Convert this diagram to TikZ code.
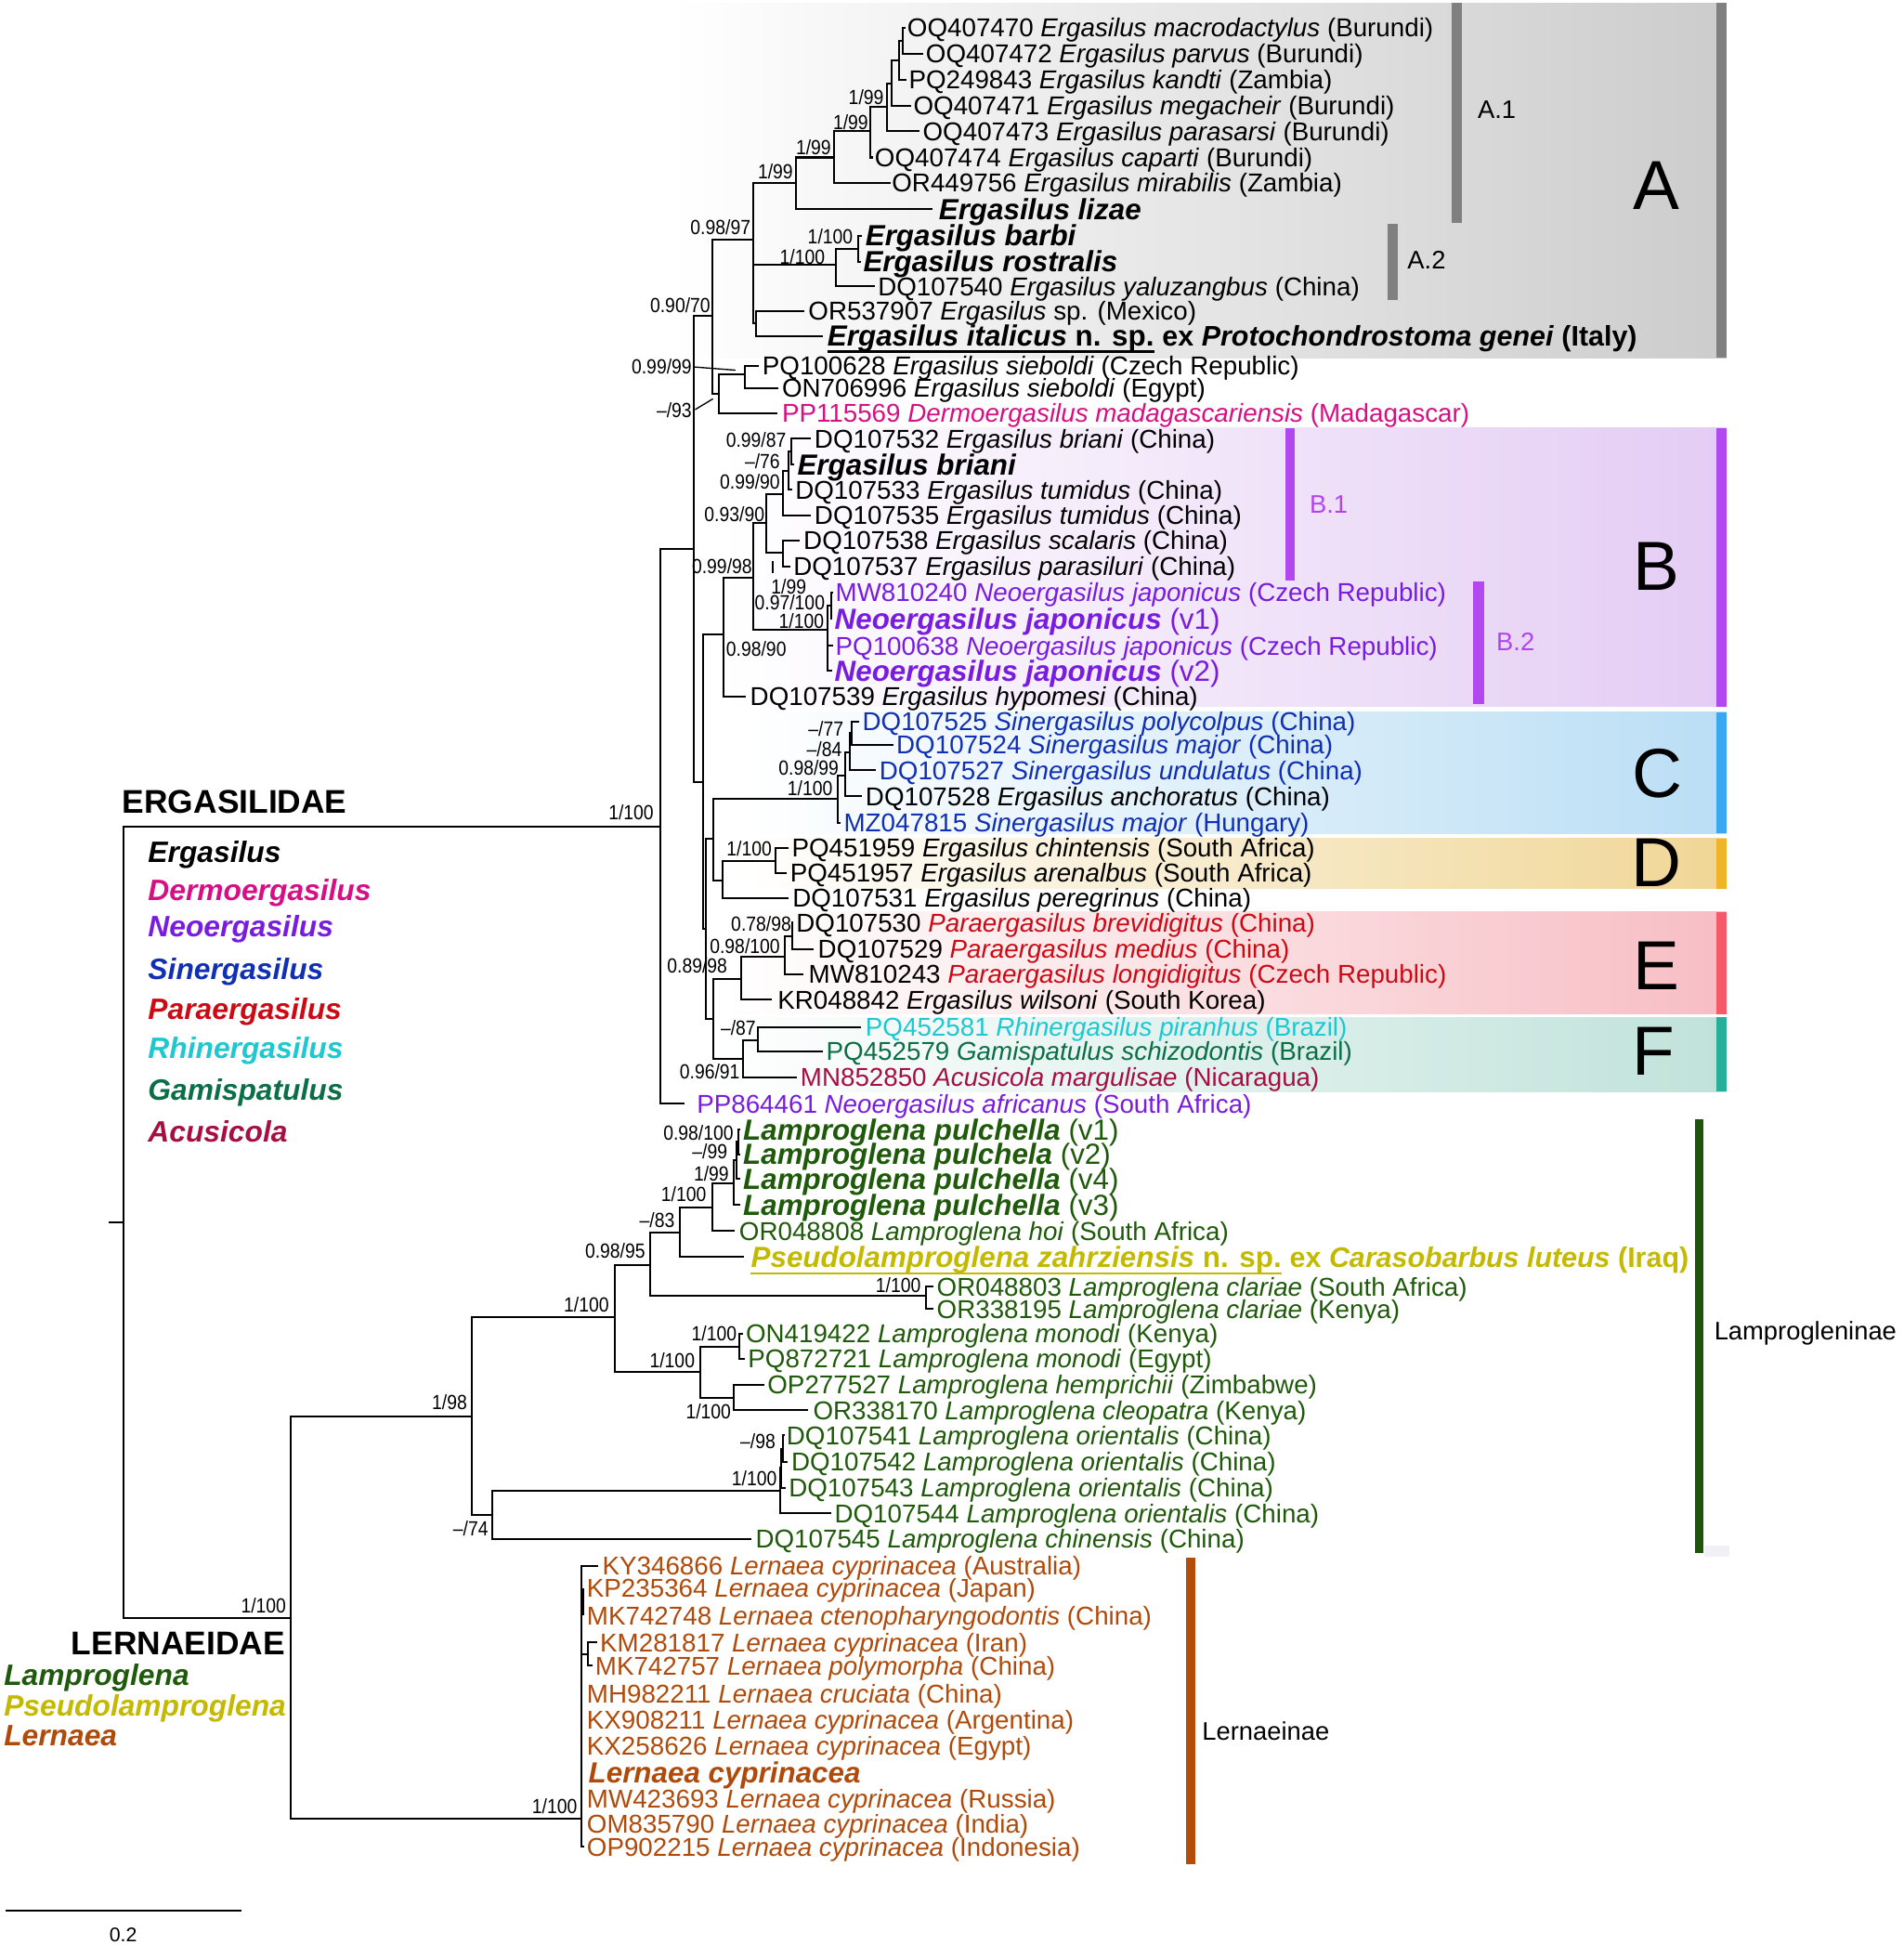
\documentclass[tikz,border=0pt]{standalone}
\usepackage{fontspec}
\setmainfont{Liberation Sans}
\newfontfamily\supfont[FakeStretch=0.88]{Liberation Sans}
\definecolor{cder}{RGB}{214,16,132}
\definecolor{cneo}{RGB}{120,28,224}
\definecolor{csin}{RGB}{16,48,180}
\definecolor{cpar}{RGB}{204,10,20}
\definecolor{crhi}{RGB}{30,200,208}
\definecolor{cgam}{RGB}{10,110,70}
\definecolor{cacu}{RGB}{165,15,65}
\definecolor{clam}{RGB}{30,90,10}
\definecolor{cpse}{RGB}{195,185,0}
\definecolor{cler}{RGB}{176,74,10}
\definecolor{cAr}{RGB}{204,204,204}\definecolor{cAbar}{RGB}{128,128,128}
\definecolor{cBr}{RGB}{228,204,244}\definecolor{cBbar}{RGB}{178,72,240}
\definecolor{cCr}{RGB}{186,222,245}\definecolor{cCbar}{RGB}{58,168,240}
\definecolor{cDr}{RGB}{240,214,150}\definecolor{cDbar}{RGB}{240,180,40}
\definecolor{cEr}{RGB}{247,190,196}\definecolor{cEbar}{RGB}{246,90,104}
\definecolor{cFr}{RGB}{192,226,218}\definecolor{cFbar}{RGB}{38,176,154}
\definecolor{cLamBar}{RGB}{30,85,10}\definecolor{cLerBar}{RGB}{179,77,10}
\definecolor{cBlab}{RGB}{178,68,240}
\definecolor{cSq}{RGB}{240,240,246}
\newcommand\LR[5]{\node[leaf,text=#4] (#1) at (#2,#3+7.4) {#5};}
\newcommand\LB[5]{\node[leafb,text=#4] (#1) at (#2,#3+8.4) {#5};}
\newcommand\SU[4]{\node[sup] (#1) at (#2,#3+5.8) {#4};}
\newcommand\GN[5]{\node[gen,text=#4] (#1) at (#2,#3+8.5) {#5};}
\begin{document}
\begin{tikzpicture}[x=1pt,y=-1pt,
  br/.style={line width=1.5pt,line join=miter},
  leaf/.style={anchor=base west,inner sep=0pt,font=\fontsize{20.8}{24}\selectfont},
  leafb/.style={anchor=base west,inner sep=0pt,font=\bfseries\fontsize{23.5}{26}\selectfont},
  leafc/.style={anchor=base west,inner sep=0pt,font=\bfseries\fontsize{22.8}{26}\selectfont},
  sup/.style={anchor=base east,inner sep=0pt,font=\supfont\fontsize{16.5}{18}\selectfont},
  gen/.style={anchor=base west,inner sep=0pt,font=\bfseries\itshape\fontsize{23.8}{26}\selectfont},
  fam/.style={anchor=base west,inner sep=0pt,font=\bfseries\fontsize{26.5}{30}\selectfont},
  big/.style={inner sep=0pt,font=\fontsize{56}{60}\selectfont},
  sub/.style={anchor=west,inner sep=0pt,font=\fontsize{20.5}{24}\selectfont}]
\useasboundingbox (0,0) rectangle (1536,1569);
% ---------- clade boxes ----------
\shade[left color=white,right color=cAr] (540,2.5) rectangle (1392.9,288.5);
\fill[cAbar] (1384.5,2.5) rectangle (1392.9,288.5);
\fill[cAbar] (1171.4,2.5) rectangle (1179.5,179.8);
\fill[cAbar] (1119.2,180.3) rectangle (1127.6,242.3);
\shade[left color=white,right color=cBr] (580,345.2) rectangle (1392.7,570);
\fill[cBbar] (1384.5,345.2) rectangle (1392.7,570);
\fill[cBbar] (1036.8,345.2) rectangle (1044.8,468.3);
\fill[cBbar] (1188.3,469) rectangle (1197,568.2);
\shade[left color=white,right color=cCr] (600,574.5) rectangle (1392.7,672.4);
\fill[cCbar] (1384.5,574.5) rectangle (1392.7,672.4);
\shade[left color=white,right color=cDr] (600,676.3) rectangle (1392.7,716.7);
\fill[cDbar] (1384.5,676.3) rectangle (1392.7,716.7);
\shade[left color=white,right color=cEr] (585,735.6) rectangle (1392.7,818);
\fill[cEbar] (1384.5,735.6) rectangle (1392.7,818);
\shade[left color=white,right color=cFr] (580,820.5) rectangle (1392.7,880.5);
\fill[cFbar] (1384.5,820.5) rectangle (1392.7,880.5);
\fill[cLamBar] (1367.4,902.9) rectangle (1374.5,1252.6);
\fill[cSq] (1375,1247) rectangle (1395,1256);
\fill[cLerBar] (956.7,1256.3) rectangle (964.3,1503.6);
% clade letters
\node[big] (bA) at (1336,150) {A};
\node[big] (bB) at (1336,457) {B};
\node[big] (bC) at (1337,623.6) {C};
\node[big] (bD) at (1336,695.6) {D};
\node[big] (bE) at (1336,779) {E};
\node[big] (bF) at (1334,848) {F};
\node[sub] (sA1) at (1192,88.7) {A.1};
\node[sub] (sA2) at (1135.3,209.8) {A.2};
\node[sub,text=cBlab] (sB1) at (1056.3,407.1) {B.1};
\node[sub,text=cBlab] (sB2) at (1207,518) {B.2};
\node[sub] (sLam) at (1382.8,1075.2) {Lamprogleninae};
\node[sub] (sLer) at (969.7,1396.2) {Lernaeinae};
% ---------- tree ----------
\draw[br] (88,986)--(99.6,986);
\draw[br] (532.8,667)--(99.6,667)--(99.6,1305.5)--(234.8,1305.5);
\draw[br] (559.5,442.6)--(532.8,442.6)--(532.8,890.4)--(552.5,890.4);
\draw[br] (574.6,254.8)--(559.5,254.8)--(559.5,630.6)--(567.4,630.6);
\draw[br] (607.8,193.6)--(574.6,193.6)--(574.6,317.7)--(579.8,317.7);
\draw[br] (642,147.4)--(607.8,147.4)--(607.8,261)--(609.6,261);
\draw[br] (607.8,213.6)--(674,213.6);
\draw[br] (673.2,127)--(642,127)--(642,168.5)--(752.5,168.5);
\draw[br] (702.4,106)--(673.2,106)--(673.2,147.5)--(718.6,147.5);
\draw[br] (715.6,86.2)--(702.4,86.2)--(702.4,127)--(704.5,127);
\draw[br] (719.4,67.4)--(715.6,67.4)--(715.6,106)--(742,106);
\draw[br] (725.6,48.7)--(719.4,48.7)--(719.4,85.5)--(735,85.5);
\draw[br] (728.1,33)--(725.6,33)--(725.6,64.5)--(731,64.5);
\draw[br] (730.5,22.5)--(728.1,22.5)--(728.1,43.5)--(745,43.5);
\draw[br] (692.6,200.5)--(674,200.5)--(674,231)--(706,231);
\draw[br] (695,190)--(692.6,190)--(692.6,211)--(694.5,211);
\draw[br] (649,251)--(609.6,251)--(609.6,271)--(664,271);
\draw[br] (600.7,302.2)--(579.8,302.2)--(579.8,333.4)--(627,333.4);
\draw[br] (612.5,295)--(600.7,295)--(600.7,313)--(628,313);
\draw[br] (584,512)--(567.4,512)--(567.4,749.3)--(569.8,749.3);
\draw[br] (607.3,465.8)--(584,465.8)--(584,562)--(602,562);
\draw[br] (617.9,422)--(607.3,422)--(607.3,508.3)--(667.4,508.3);
\draw[br] (631.8,398.4)--(617.9,398.4)--(617.9,446)--(631.8,446);
\draw[br] (645,436)--(631.8,436)--(631.8,457)--(638,457);
\draw[br] (636,380)--(631.8,380)--(631.8,415.5)--(654,415.5);
\draw[br] (638.1,364.5)--(636,364.5)--(636,395)--(639,395);
\draw[br] (654,354)--(638.1,354)--(638.1,375)--(641,375);
\draw[br] (670.3,488.5)--(667.4,488.5)--(667.4,541)--(671,541);
\draw[br] (667.4,521)--(672,521);
\draw[br] (672,478)--(670.3,478)--(670.3,499)--(671.5,499);
\draw[br] (575.7,676.8)--(569.8,676.8)--(569.8,821.7)--(575.7,821.7);
\draw[br] (675.8,644.4)--(575.7,644.4)--(575.7,710.6)--(583.2,710.6);
\draw[br] (682,625.6)--(675.8,625.6)--(675.8,663.5)--(678,663.5);
\draw[br] (685.3,606.9)--(682,606.9)--(682,642.5)--(695,642.5);
\draw[br] (686.8,591.5)--(685.3,591.5)--(685.3,621.5)--(706.5,621.5);
\draw[br] (693,582)--(686.8,582)--(686.8,601)--(720.5,601);
\draw[br] (625.6,694.3)--(583.2,694.3)--(583.2,724.5)--(636,724.5);
\draw[br] (636,684)--(625.6,684)--(625.6,704)--(635,704);
\draw[br] (598.2,789.4)--(575.7,789.4)--(575.7,854.4)--(599.4,854.4);
\draw[br] (633.2,771.7)--(598.2,771.7)--(598.2,806.5)--(623,806.5);
\draw[br] (638.8,755.6)--(633.2,755.6)--(633.2,786)--(648,786);
\draw[br] (640,744.4)--(638.8,744.4)--(638.8,765.5)--(656,765.5);
\draw[br] (611.4,839.2)--(599.4,839.2)--(599.4,869.2)--(643,869.2);
\draw[br] (694.5,828.5)--(611.4,828.5)--(611.4,848)--(663.5,848);
\draw[br] (381,1142.3)--(234.8,1142.3)--(234.8,1467.2)--(469.1,1467.2);
\draw[br] (495.8,1062.8)--(381,1062.8)--(381,1221.8)--(397,1221.8);
\draw[br] (629.4,1202.6)--(397,1202.6)--(397,1241.3)--(606.5,1241.3);
\draw[br] (524.5,1020.3)--(495.8,1020.3)--(495.8,1106.5)--(564.8,1106.5);
\draw[br] (548.2,994)--(524.5,994)--(524.5,1045.3)--(746.7,1045.3);
\draw[br] (574.9,974)--(548.2,974)--(548.2,1014)--(600,1014);
\draw[br] (591.9,954.5)--(574.9,954.5)--(574.9,993)--(592.5,993);
\draw[br] (594,936)--(591.9,936)--(591.9,972)--(597,972);
\draw[br] (595.6,921)--(594,921)--(594,951)--(597,951);
\draw[br] (597,911)--(595.6,911)--(595.6,931)--(597,931);
\draw[br] (753,1038)--(746.7,1038)--(746.7,1056)--(753,1056);
\draw[br] (596.3,1086.5)--(564.8,1086.5)--(564.8,1127.7)--(591.9,1127.7);
\draw[br] (599.5,1076)--(596.3,1076)--(596.3,1096)--(601,1096);
\draw[br] (616.5,1117.2)--(591.9,1117.2)--(591.9,1137.7)--(652,1137.7);
\draw[br] (630.4,1184)--(629.4,1184)--(629.4,1220.8)--(670.5,1220.8);
\draw[br] (631.4,1168.5)--(630.4,1168.5)--(630.4,1200)--(634,1200);
\draw[br] (633,1158)--(631.4,1158)--(631.4,1179)--(635.5,1179);
\draw[br] (482.5,1263)--(469.1,1263)--(469.1,1489.8)--(471,1489.8);
\draw[br] (482,1325)--(474.6,1325)--(474.6,1343.7)--(478,1343.7);
\draw[br] (469.1,1334.3)--(474.6,1334.3);
\draw[line width=2.6pt] (470.3,1281)--(470.3,1303);
% leader lines
\draw[line width=1pt] (559.5,296)--(593.3,298.6);
\draw[line width=1pt] (560.8,330.4)--(575.2,321.7);
\draw[line width=1pt] (623.5,452.5)--(623.5,462);
% scale bar
\draw[line width=1.5pt] (4.5,1541.5)--(194.8,1541.5);
\node[inner sep=0pt,font=\fontsize{16}{18}\selectfont] (scl) at (99.4,1561) {0.2};
% ---------- legend ----------
\node[fam] (ergfam) at (98.6,655.8) {ERGASILIDAE};
\GN{g1}{119.3}{686.9}{black}{Ergasilus}
\GN{g2}{119.3}{718}{cder}{Dermoergasilus}
\GN{g3}{119.3}{746.8}{cneo}{Neoergasilus}
\GN{g4}{119.3}{781.8}{csin}{Sinergasilus}
\GN{g5}{119.3}{814.2}{cpar}{Paraergasilus}
\GN{g6}{119.3}{845.6}{crhi}{Rhinergasilus}
\GN{g7}{119.3}{879.2}{cgam}{Gamispatulus}
\GN{g8}{119.3}{913}{cacu}{Acusicola}
\node[fam] (lerfam) at (57.4,1334.5) {LERNAEIDAE};
\GN{g9}{3}{1351.2}{clam}{Lamproglena}
\GN{g10}{3}{1375.7}{cpse}{Pseudolamproglena}
\GN{g11}{3}{1400}{cler}{Lernaea}
% ---------- leaves ----------
\LR{l1}{731.8}{22.5}{black}{OQ407470 \textit{Ergasilus macrodactylus} (Burundi)}
\LR{l2}{746.8}{43.5}{black}{OQ407472 \textit{Ergasilus parvus} (Burundi)}
\LR{l3}{733}{64.5}{black}{PQ249843 \textit{Ergasilus kandti} (Zambia)}
\LR{l4}{736.8}{85.5}{black}{OQ407471 \textit{Ergasilus megacheir} (Burundi)}
\LR{l5}{744.3}{106}{black}{OQ407473 \textit{Ergasilus parasarsi} (Burundi)}
\LR{l6}{705.6}{127}{black}{OQ407474 \textit{Ergasilus caparti} (Burundi)}
\LR{l7}{719.4}{147.5}{black}{OR449756 \textit{Ergasilus mirabilis} (Zambia)}
\LB{l8}{757.2}{168.5}{black}{\textit{Ergasilus lizae}}
\LB{l9}{698}{190}{black}{\textit{Ergasilus barbi}}
\LB{l10}{696.3}{211}{black}{\textit{Ergasilus rostralis}}
\LR{l11}{708.1}{231}{black}{DQ107540 \textit{Ergasilus yaluzangbus} (China)}
\LR{l12}{652}{251}{black}{OR537907 \textit{Ergasilus} sp. (Mexico)}
\LB{l13}{667.4}{271}{black}{\textit{Ergasilus italicus} n. sp.}
\node[leafc] (l13b) at (l13.base east) {~ex \textit{Protochondrostoma genei} (Italy)};
\draw[line width=1.8pt] ([yshift=-4.3pt]l13.base west)--([yshift=-4.3pt]l13.base east);
\LR{l14}{614.9}{295}{black}{PQ100628 \textit{Ergasilus sieboldi} (Czech Republic)}
\LR{l15}{630.7}{313}{black}{ON706996 \textit{Ergasilus sieboldi} (Egypt)}
\LR{l16}{630.7}{333.4}{cder}{PP115569 \textit{Dermoergasilus madagascariensis} (Madagascar)}
\LR{l17}{656.9}{354}{black}{DQ107532 \textit{Ergasilus briani} (China)}
\LB{l18}{643.1}{375}{black}{\textit{Ergasilus briani}}
\LR{l19}{641.4}{395}{black}{DQ107533 \textit{Ergasilus tumidus} (China)}
\LR{l20}{656.9}{415.5}{black}{DQ107535 \textit{Ergasilus tumidus} (China)}
\LR{l21}{648.1}{436}{black}{DQ107538 \textit{Ergasilus scalaris} (China)}
\LR{l22}{639.9}{457}{black}{DQ107537 \textit{Ergasilus parasiluri} (China)}
\LR{l23}{673.9}{478}{cneo}{MW810240 \textit{Neoergasilus japonicus} (Czech Republic)}
\LB{l24}{673.2}{499}{cneo}{\textit{Neoergasilus japonicus} \textmd{(v1)}}
\LR{l25}{673.9}{521}{cneo}{PQ100638 \textit{Neoergasilus japonicus} (Czech Republic)}
\LB{l26}{673.2}{541}{cneo}{\textit{Neoergasilus japonicus} \textmd{(v2)}}
\LR{l27}{605}{562}{black}{DQ107539 \textit{Ergasilus hypomesi} (China)}
\LR{l28}{695.6}{582}{csin}{DQ107525 \textit{Sinergasilus polycolpus} (China)}
\LR{l29}{723}{601}{csin}{DQ107524 \textit{Sinergasilus major} (China)}
\LR{l30}{709.3}{621.5}{csin}{DQ107527 \textit{Sinergasilus undulatus} (China)}
\LR{l31}{698.1}{642.5}{black}{DQ107528 \textit{Ergasilus anchoratus} (China)}
\LR{l32}{680.6}{663.5}{csin}{MZ047815 \textit{Sinergasilus major} (Hungary)}
\LR{l33}{638.6}{684}{black}{PQ451959 \textit{Ergasilus chintensis} (South Africa)}
\LR{l34}{637.3}{704}{black}{PQ451957 \textit{Ergasilus arenalbus} (South Africa)}
\LR{l35}{639.2}{724.5}{black}{DQ107531 \textit{Ergasilus peregrinus} (China)}
\LR{l36}{642.2}{744.4}{black}{DQ107530 \textcolor{cpar}{\textit{Paraergasilus brevidigitus} (China)}}
\LR{l37}{659.7}{765.5}{black}{DQ107529 \textcolor{cpar}{\textit{Paraergasilus medius} (China)}}
\LR{l38}{652.2}{786}{black}{MW810243 \textcolor{cpar}{\textit{Paraergasilus longidigitus} (Czech Republic)}}
\LR{l39}{627.2}{806.5}{black}{KR048842 \textit{Ergasilus wilsoni} (South Korea)}
\LR{l40}{698.1}{828.5}{crhi}{PQ452581 \textit{Rhinergasilus piranhus} (Brazil)}
\LR{l41}{666.4}{848}{cgam}{PQ452579 \textit{Gamispatulus schizodontis} (Brazil)}
\LR{l42}{645.6}{869.2}{cacu}{MN852850 \textit{Acusicola margulisae} (Nicaragua)}
\LR{l43}{562}{890.4}{cneo}{PP864461 \textit{Neoergasilus africanus} (South Africa)}
\LB{l44}{599.4}{911}{clam}{\textit{Lamproglena pulchella} \textmd{(v1)}}
\LB{l45}{599.4}{931}{clam}{\textit{Lamproglena pulchela} \textmd{(v2)}}
\LB{l46}{599.4}{951}{clam}{\textit{Lamproglena pulchella} \textmd{(v4)}}
\LB{l47}{599.4}{972}{clam}{\textit{Lamproglena pulchella} \textmd{(v3)}}
\LR{l48}{596.2}{993}{clam}{OR048808 \textit{Lamproglena hoi} (South Africa)}
\LB{l49}{605.7}{1014}{cpse}{\textit{Pseudolamproglena zahrziensis} n. sp.}
\node[leafc,text=cpse] (l49b) at (l49.base east) {~ex \textit{Carasobarbus luteus} (Iraq)};
\draw[cpse,line width=1.8pt] ([yshift=-5pt]l49.base west)--([yshift=-5pt]l49.base east);
\LR{l50}{755.6}{1038}{clam}{OR048803 \textit{Lamproglena clariae} (South Africa)}
\LR{l51}{755.6}{1056}{clam}{OR338195 \textit{Lamproglena clariae} (Kenya)}
\LR{l52}{601.5}{1076}{clam}{ON419422 \textit{Lamproglena monodi} (Kenya)}
\LR{l53}{603.3}{1096}{clam}{PQ872721 \textit{Lamproglena monodi} (Egypt)}
\LR{l54}{619}{1117.2}{clam}{OP277527 \textit{Lamproglena hemprichii} (Zimbabwe)}
\LR{l55}{655.8}{1137.7}{clam}{OR338170 \textit{Lamproglena cleopatra} (Kenya)}
\LR{l56}{634.4}{1158}{clam}{DQ107541 \textit{Lamproglena orientalis} (China)}
\LR{l57}{638.2}{1179}{clam}{DQ107542 \textit{Lamproglena orientalis} (China)}
\LR{l58}{636.2}{1200}{clam}{DQ107543 \textit{Lamproglena orientalis} (China)}
\LR{l59}{673.1}{1220.8}{clam}{DQ107544 \textit{Lamproglena orientalis} (China)}
\LR{l60}{609.4}{1241.3}{clam}{DQ107545 \textit{Lamproglena chinensis} (China)}
\LR{l61}{485.8}{1263.3}{cler}{KY346866 \textit{Lernaea cyprinacea} (Australia)}
\LR{l62}{473.3}{1281.3}{cler}{KP235364 \textit{Lernaea cyprinacea} (Japan)}
\LR{l63}{473.3}{1303.3}{cler}{MK742748 \textit{Lernaea ctenopharyngodontis} (China)}
\LR{l64}{484}{1325}{cler}{KM281817 \textit{Lernaea cyprinacea} (Iran)}
\LR{l65}{480}{1343.7}{cler}{MK742757 \textit{Lernaea polymorpha} (China)}
\LR{l66}{473.3}{1366.2}{cler}{MH982211 \textit{Lernaea cruciata} (China)}
\LR{l67}{473.3}{1387.4}{cler}{KX908211 \textit{Lernaea cyprinacea} (Argentina)}
\LR{l68}{473.3}{1408.6}{cler}{KX258626 \textit{Lernaea cyprinacea} (Egypt)}
\LB{l69}{474.6}{1429.9}{cler}{\textit{Lernaea cyprinacea}}
\LR{l70}{473.3}{1451.1}{cler}{MW423693 \textit{Lernaea cyprinacea} (Russia)}
\LR{l71}{473.3}{1471.1}{cler}{OM835790 \textit{Lernaea cyprinacea} (India)}
\LR{l72}{473.3}{1489.8}{cler}{OP902215 \textit{Lernaea cyprinacea} (Indonesia)}
% ---------- support values ----------
\SU{s1}{713.1}{78.7}{1/99}
\SU{s2}{700.6}{98.7}{1/99}
\SU{s3}{670.6}{118.6}{1/99}
\SU{s4}{639.9}{138.6}{1/99}
\SU{s5}{605.7}{183.6}{0.98/97}
\SU{s6}{688.2}{191}{1/100}
\SU{s7}{665.7}{207.3}{1/100}
\SU{s8}{573.2}{246}{0.90/70}
\SU{s9}{558.2}{296}{0.99/99}
\SU{s10}{558.2}{331}{–/93}
\SU{s11}{634.4}{354.7}{0.99/87}
\SU{s12}{629.4}{372}{–/76}
\SU{s13}{629.4}{388.4}{0.99/90}
\SU{s14}{616.9}{414.6}{0.93/90}
\SU{s15}{606.9}{457}{0.99/98}
\SU{s16}{650.7}{473.3}{1/99}
\SU{s17}{665.6}{485.8}{0.97/100}
\SU{s18}{664.9}{500.8}{1/100}
\SU{s19}{634.5}{523.3}{0.98/90}
\SU{s20}{680.6}{588.2}{–/77}
\SU{s21}{679.3}{604.4}{–/84}
\SU{s22}{676.8}{619.4}{0.98/99}
\SU{s23}{671.8}{635.7}{1/100}
\SU{s24}{622.8}{684.4}{1/100}
\SU{s25}{638.5}{745.5}{0.78/98}
\SU{s26}{629.4}{763.1}{0.98/100}
\SU{s27}{586.9}{779.3}{0.89/98}
\SU{s28}{609.9}{829.2}{–/87}
\SU{s29}{597}{864.2}{0.96/91}
\SU{s30}{527.5}{655.6}{1/100}
\SU{s31}{591.9}{914.1}{0.98/100}
\SU{s32}{587}{929.1}{–/99}
\SU{s33}{588.2}{946.7}{1/99}
\SU{s34}{570}{963.6}{1/100}
\SU{s35}{544.5}{984}{–/83}
\SU{s36}{520.7}{1009}{0.98/95}
\SU{s37}{491.5}{1052.7}{1/100}
\SU{s38}{743}{1036.9}{1/100}
\SU{s39}{594.5}{1075.9}{1/100}
\SU{s40}{560.7}{1097.7}{1/100}
\SU{s41}{589.9}{1138.9}{1/100}
\SU{s42}{625.7}{1162.6}{–/98}
\SU{s43}{626.9}{1192.6}{1/100}
\SU{s44}{377}{1131}{1/98}
\SU{s45}{394}{1233}{–/74}
\SU{s46}{231}{1295}{1/100}
\SU{s47}{465.8}{1457.3}{1/100}
\end{tikzpicture}
\end{document}
